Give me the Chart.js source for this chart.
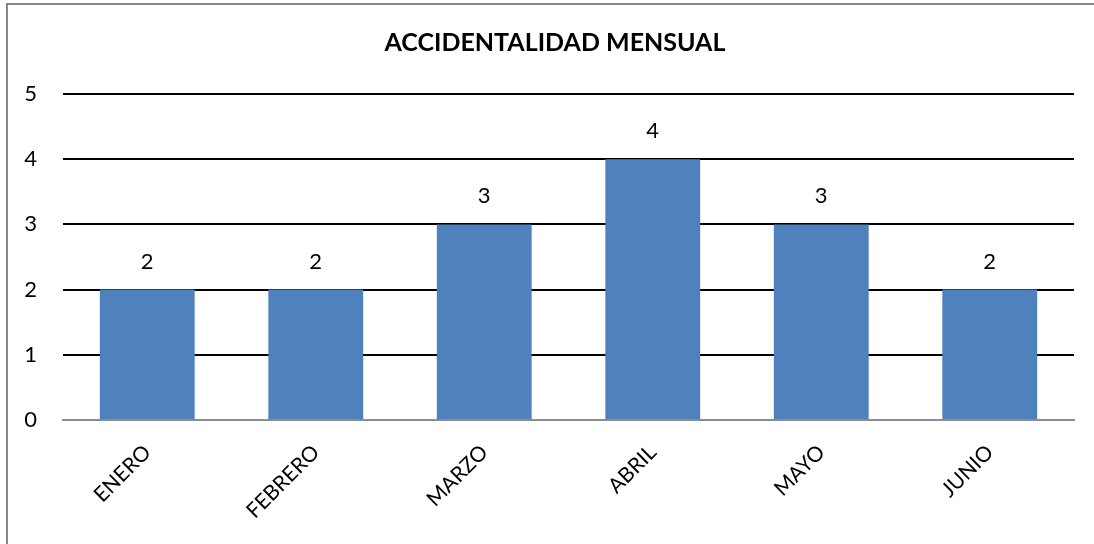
<!DOCTYPE html>
<html>
<head>
<meta charset="utf-8">
<script src="https://cdn.jsdelivr.net/npm/chart.js@4"></script>
<style>
  html, body { margin: 0; padding: 0; background: #fff; overflow: hidden; }
  #wrap { position: absolute; left: 0; top: 0; width: 1094px; height: 544px; }
  #frame { position: absolute; left: 6px; top: 3px; width: 2000px; height: 2000px;
           border-left: 2px solid #878787; border-top: 2px solid #878787; pointer-events: none; }
</style>
</head>
<body>
<div id="wrap"><canvas id="c" width="1094" height="544"></canvas></div>
<div id="frame"></div>
<script>
const categories = ["ENERO", "FEBRERO", "MARZO", "ABRIL", "MAYO", "JUNIO"];
const accidents = [2, 2, 3, 4, 3, 2];
const yTicks = [0, 1, 2, 3, 4, 5];
const chartTitle = "ACCIDENTALIDAD MENSUAL";

const FONT = "Lato, 'Open Sans', 'Liberation Sans', sans-serif";

const valueLabels = {
  id: "valueLabels",
  afterDatasetsDraw(chart) {
    const ctx = chart.ctx;
    const meta = chart.getDatasetMeta(0);
    ctx.save();
    ctx.fillStyle = "#000";
    ctx.font = "22px " + FONT;
    ctx.textAlign = "center";
    ctx.textBaseline = "middle";
    meta.data.forEach((bar, i) => {
      ctx.fillText(String(accidents[i]), bar.x, bar.y - 28);
    });
    ctx.restore();
  }
};

const titleDraw = {
  id: "titleDraw",
  afterDraw(chart) {
    const ctx = chart.ctx;
    ctx.save();
    ctx.fillStyle = "#000";
    ctx.font = "bold 25px " + FONT;
    ctx.textAlign = "center";
    ctx.textBaseline = "middle";
    ctx.fillText(chartTitle, chart.width / 2 + 8, 43);
    ctx.restore();
  }
};

new Chart(document.getElementById("c"), {
  type: "bar",
  data: {
    labels: categories,
    datasets: [{
      data: accidents,
      backgroundColor: "#4F81BD",
      borderWidth: 0,
      barPercentage: 0.563,
      categoryPercentage: 1.0
    }]
  },
  options: {
    responsive: false,
    animation: false,
    devicePixelRatio: 1,
    layout: { padding: { left: 0, right: 20, top: 94, bottom: 0 } },
    plugins: {
      legend: { display: false },
      tooltip: { enabled: false },
      title: { display: false }
    },
    scales: {
      x: {
        grid: { display: false, drawTicks: false },
        border: { display: true, color: "#8c8c8c", width: 2 },
        ticks: {
          color: "#000",
          font: { family: FONT, size: 21 },
          maxRotation: 45,
          minRotation: 45,
          padding: 20
        },
        afterFit(scale) { scale.height = 124; }
      },
      y: {
        min: 0,
        max: 5,
        afterBuildTicks(scale) { scale.ticks = yTicks.map(v => ({ value: v })); },
        grid: {
          color: (c) => c.tick && c.tick.value === 0 ? "rgba(0,0,0,0)" : "#000",
          lineWidth: 2,
          drawTicks: false
        },
        border: { display: false },
        ticks: {
          color: "#000",
          font: { family: FONT, size: 22 },
          padding: 26
        },
        afterFit(scale) { scale.width = 63; }
      }
    }
  },
  plugins: [valueLabels, titleDraw]
});
</script>
</body>
</html>
